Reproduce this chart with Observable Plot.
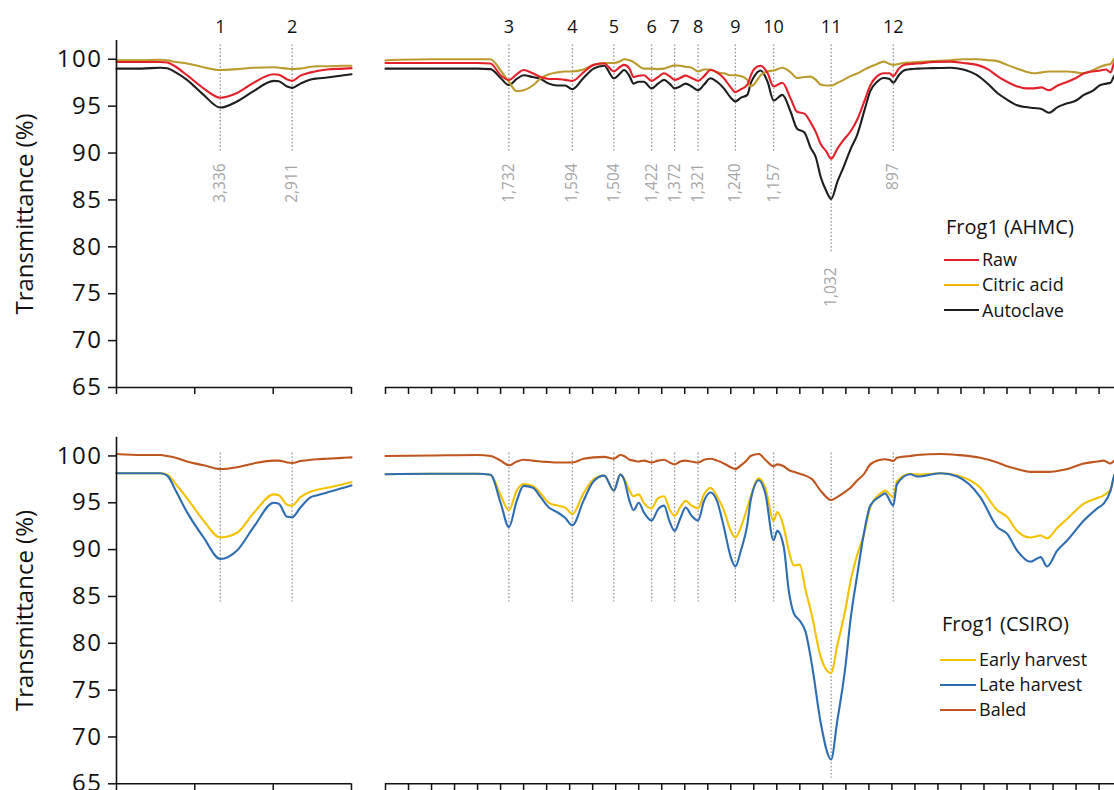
<!DOCTYPE html>
<html>
<head>
<meta charset="utf-8">
<script src="https://cdn.jsdelivr.net/npm/d3@7"></script>
<script src="https://cdn.jsdelivr.net/npm/@observablehq/plot@0.6"></script>
<style>
  body { margin: 0; background: #fff; }
  #chart { position: relative; width: 1114px; height: 790px; overflow: hidden; font-family: "Open Sans", sans-serif; color: #111; }
  #chart svg { position: absolute; display: block; }
  .lg-title { position: absolute; font-size: 20px; line-height: 26px; white-space: nowrap; }
  .lg-item { position: absolute; display: flex; align-items: center; font-size: 18px; line-height: 25px; height: 25px; white-space: nowrap; }
  .lg-sw { height: 2px; }
</style>
</head>
<body>
<div id="chart"></div>
<script>
// ---------- data ----------
const seriesTop = ["Raw", "Citric acid", "Autoclave"];
const seriesBottom = ["Early harvest", "Late harvest", "Baled"];
const titleTop = "Frog1 (AHMC)";
const titleBottom = "Frog1 (CSIRO)";
const yTitle = "Transmittance (%)";

const leftDomain = [3950, 2560];
const rightDomain = [2000, 400];
const yDomain = [65, 102];
const yTicks = [65, 70, 75, 80, 85, 90, 95, 100];
const leftTicks = [3950, 3487, 3023, 2560];

const peakNumbers = [1, 2, 3, 4, 5, 6, 7, 8, 9, 10, 11, 12];
const peakWavenumbers = [3336, 2911, 1732, 1594, 1504, 1422, 1372, 1321, 1240, 1157, 1032, 897];

// 4000–2500 cm-1 region (both panels)
const wnLeft = [3950, 3800, 3690, 3650, 3600, 3533, 3435, 3336, 3237, 3139, 3020, 2990, 2941, 2911, 2862, 2800, 2763, 2704, 2606, 2560];
const rawLeft =       [99.7, 99.7, 99.7, 99.65, 99.2, 98.3, 96.9, 95.9, 96.4, 97.5, 98.4, 98.35, 97.85, 97.7, 98.25, 98.6, 98.75, 98.9, 99.0, 99.05];
const citricLeft =    [99.9, 99.9, 99.95, 99.9, 99.7, 99.55, 99.15, 98.85, 98.95, 99.1, 99.15, 99.1, 99.0, 98.95, 99.0, 99.2, 99.25, 99.25, 99.3, 99.3];
const autoclaveLeft = [99.0, 99.0, 99.1, 99.05, 98.6, 97.8, 96.2, 94.85, 95.5, 96.6, 97.7, 97.65, 97.1, 96.95, 97.4, 97.85, 97.95, 98.05, 98.3, 98.4];
const earlyLeft =     [98.15, 98.15, 98.15, 98.0, 97.0, 95.5, 93.1, 91.3, 91.8, 93.9, 95.9, 95.8, 94.8, 94.7, 95.6, 96.2, 96.4, 96.6, 97.0, 97.2];
const lateLeft =      [98.15, 98.15, 98.15, 97.9, 96.3, 94.0, 91.3, 89.0, 89.9, 92.4, 95.0, 94.9, 93.5, 93.45, 94.5, 95.6, 95.8, 96.1, 96.6, 96.85];
const baledLeft =     [100.2, 100.1, 100.1, 100.0, 99.8, 99.4, 99.0, 98.6, 98.8, 99.2, 99.5, 99.5, 99.3, 99.25, 99.45, 99.6, 99.65, 99.7, 99.8, 99.85];

// 2000–400 cm-1 region, AHMC panel
const wnTopRight = [
  2000, 1900, 1800, 1772, 1750, 1732, 1715, 1700, 1680, 1663,
  1645, 1627, 1610, 1594, 1570, 1548, 1525, 1504, 1490, 1482,
  1470, 1461, 1450, 1439, 1422, 1408, 1395, 1383, 1372, 1360,
  1348, 1335, 1321, 1308, 1294, 1280, 1265, 1250, 1240, 1228,
  1214, 1207, 1200, 1185, 1170, 1157, 1138, 1120, 1106, 1090,
  1077, 1065, 1055, 1043, 1032, 1018, 1005, 990, 975, 960,
  947, 932, 918, 905, 897, 885, 874, 860, 845, 810,
  773, 745, 715, 690, 671, 650, 628, 610, 592, 575,
  559, 540, 519, 500, 483, 465, 447, 435, 425, 416,
  400];
const rawRight = [
  99.6, 99.6, 99.6, 99.55, 98.3, 97.8, 98.4, 98.85, 98.5, 98.1,
  97.9, 97.9, 97.8, 97.7, 98.6, 99.4, 99.55, 98.7, 99.2, 99.4,
  99.0, 98.1, 98.25, 98.3, 97.7, 98.1, 98.5, 98.2, 97.8, 98.0,
  98.25, 98.0, 97.7, 98.2, 98.85, 98.6, 97.97, 97.0, 96.5, 96.8,
  97.3, 98.2, 98.9, 99.3, 98.5, 97.1, 97.5, 95.8, 94.4, 94.2,
  93.3, 92.2, 91.0, 90.2, 89.4, 90.5, 91.4, 92.3, 93.6, 95.5,
  97.2, 98.2, 98.5, 98.5, 98.2, 99.0, 99.4, 99.5, 99.55, 99.7,
  99.75, 99.6, 99.4, 98.9, 98.2, 97.6, 97.1, 96.9, 96.9, 97.0,
  96.7, 97.2, 97.6, 98.0, 98.5, 98.7, 98.8, 98.9, 98.6, 99.7,
  99.8];
const citricRight = [
  99.9, 100.0, 100.0, 100.0, 98.8, 97.6, 96.6, 96.7, 97.2, 97.97,
  98.4, 98.6, 98.7, 98.7, 98.9, 99.4, 99.6, 99.6, 99.8, 100.0,
  99.9, 99.7, 99.3, 99.0, 99.0, 98.95, 99.0, 99.2, 99.35, 99.3,
  99.2, 99.1, 98.7, 98.9, 98.9, 98.6, 98.5, 98.3, 98.3, 98.2,
  97.8, 97.1, 97.3, 98.3, 98.7, 98.8, 99.1, 98.6, 98.0, 98.1,
  98.15, 97.8, 97.3, 97.2, 97.2, 97.5, 97.8, 98.2, 98.5, 98.9,
  99.2, 99.5, 99.75, 99.5, 99.4, 99.5, 99.6, 99.65, 99.7, 99.8,
  99.9, 100.0, 100.0, 99.9, 99.8, 99.4, 99.0, 98.7, 98.5, 98.6,
  98.7, 98.7, 98.7, 98.6, 98.5, 98.8, 99.2, 99.4, 99.5, 100.1,
  100.1];
const autoclaveRight = [
  99.0, 99.0, 99.0, 98.95, 98.0, 97.25, 97.9, 98.3, 98.1, 97.9,
  97.4, 97.2, 97.2, 96.8, 98.0, 99.0, 99.3, 97.97, 98.5, 98.85,
  98.2, 97.4, 97.6, 97.6, 96.9, 97.4, 97.8, 97.4, 96.9, 97.1,
  97.4, 97.1, 96.7, 97.3, 97.97, 97.6, 96.9, 95.9, 95.5, 95.9,
  96.2, 97.4, 98.1, 98.8, 97.6, 95.6, 96.2, 94.4, 92.6, 92.2,
  90.6, 89.5, 87.5, 86.0, 85.1, 87.0, 88.5, 90.4, 92.0, 94.5,
  96.6, 97.6, 98.0, 97.9, 97.5, 98.3, 98.8, 98.95, 99.0, 99.05,
  99.1, 98.9, 98.3, 97.3, 96.4, 95.7, 95.1, 94.9, 94.8, 94.7,
  94.3, 94.9, 95.3, 95.6, 96.2, 96.6, 97.25, 97.4, 97.5, 98.3,
  98.5];

// 2000–400 cm-1 region, CSIRO panel
const wnBottomRight = [
  2000, 1900, 1800, 1772, 1750, 1732, 1715, 1700, 1680, 1663,
  1645, 1627, 1610, 1594, 1570, 1548, 1525, 1504, 1490, 1482,
  1470, 1461, 1450, 1439, 1422, 1408, 1395, 1383, 1372, 1360,
  1348, 1335, 1321, 1308, 1294, 1280, 1265, 1250, 1240, 1228,
  1214, 1207, 1189, 1175, 1157, 1149, 1135, 1124, 1113, 1100,
  1088, 1073, 1055, 1032, 1019, 1001, 990, 975, 961, 947,
  925, 915, 897, 889, 860, 845, 795, 758, 708, 671,
  650, 628, 599, 577, 563, 541, 519, 483, 454, 440,
  425, 416, 400];
const earlyRight = [
  98.05, 98.1, 98.1, 98.0, 95.8, 94.2, 96.3, 97.0, 96.8, 96.0,
  95.0, 94.7, 94.5, 93.8, 96.0, 97.5, 97.9, 96.3, 98.05, 97.6,
  96.3, 95.7, 95.9, 95.0, 94.4, 95.5, 95.7, 94.3, 93.6, 94.5,
  95.2, 94.7, 94.4, 95.9, 96.6, 95.7, 94.2, 92.0, 91.3, 92.4,
  94.5, 95.6, 97.6, 96.6, 93.1, 94.0, 92.4, 89.9, 88.3, 88.4,
  85.8, 82.8, 78.6, 76.8, 79.7, 83.6, 86.6, 89.5, 91.6, 94.5,
  96.0, 96.3, 95.6, 97.3, 98.1, 98.0, 98.15, 97.9, 96.6, 94.2,
  93.5, 92.0, 91.3, 91.5, 91.2, 92.3, 93.3, 94.9, 95.5, 95.8,
  96.4, 98.05, 98.5];
const lateRight = [
  98.05, 98.1, 98.1, 98.0, 95.0, 92.4, 95.2, 96.8, 96.6, 95.6,
  94.5, 94.0, 93.4, 92.6, 95.2, 97.3, 97.9, 96.3, 98.0, 97.5,
  95.2, 94.2, 95.0, 94.0, 93.1, 94.3, 94.7, 93.0, 92.0, 93.3,
  94.5, 93.6, 93.1, 95.2, 96.1, 95.2, 92.4, 89.2, 88.2, 89.9,
  92.7, 95.2, 97.4, 96.0, 91.0, 92.0, 90.3, 85.6, 83.2, 82.4,
  81.3, 77.5, 71.6, 67.6, 71.6, 77.5, 82.5, 87.4, 91.7, 94.7,
  95.7, 96.0, 94.7, 97.0, 98.05, 97.8, 98.15, 97.8, 95.6, 92.4,
  91.7, 89.9, 88.7, 89.2, 88.2, 89.9, 91.0, 93.1, 94.4, 94.9,
  96.3, 98.05, 98.5];
const baledRight = [
  100.0, 100.05, 100.1, 100.0, 99.5, 99.0, 99.4, 99.6, 99.5, 99.4,
  99.35, 99.3, 99.3, 99.3, 99.7, 99.85, 99.9, 99.7, 100.1, 100.0,
  99.6, 99.5, 99.4, 99.5, 99.3, 99.5, 99.6, 99.3, 99.1, 99.4,
  99.5, 99.4, 99.3, 99.6, 99.7, 99.5, 99.2, 98.8, 98.6, 99.0,
  99.6, 100.0, 100.2, 99.6, 98.9, 99.1, 98.9, 98.5, 98.3, 98.1,
  97.9, 97.5, 96.3, 95.3, 95.6, 96.2, 96.6, 97.4, 98.05, 99.1,
  99.6, 99.65, 99.47, 99.8, 100.0, 100.1, 100.2, 100.1, 99.8, 99.3,
  98.9, 98.6, 98.3, 98.3, 98.3, 98.4, 98.6, 99.2, 99.4, 99.5,
  99.2, 99.5, 99.6];

// colours
const lineColorsTop = ["#e3202a", "#bb9b2e", "#1e1e1e"];      // Raw, Citric acid, Autoclave
const legendColorsTop = ["#e3202a", "#f2b705", "#1e1e1e"];
const lineColorsBottom = ["#f5c200", "#2f6db3", "#c0561f"];   // Early, Late, Baled

// ---------- build tables ----------
function rows(wn, arrays, names, order) {
  const out = [];
  order.forEach(i => {
    if (arrays[i].length !== wn.length) console.error("length mismatch", names[i], arrays[i].length, wn.length);
    wn.forEach((w, j) => out.push({series: names[i], w, v: arrays[i][j]}));
  });
  return out;
}
const topOrder = [2, 1, 0];     // Autoclave, Citric acid, then Raw on top
const bottomOrder = [0, 1, 2];  // Early, Late, Baled
const peaks = peakWavenumbers.map((w, i) => ({w, n: peakNumbers[i]}));
const rightTicks = d3.range(rightDomain[0], rightDomain[1] - 1, -50);

const chart = document.getElementById("chart");

function subpanel({data, names, colors, domain, ticks, left, svgWidth, xRange, top, height, yTop, yBottom,
                   ruleTop, ruleEnd, ruleEndDeep, labels, yAxis}) {
  const lo = Math.min(...domain), hi = Math.max(...domain);
  const pk = peaks.filter(p => p.w >= lo && p.w <= hi);
  const marks = [
    Plot.ruleX(pk, {x: "w", y1: ruleTop, y2: d => d.w === 1032 ? ruleEndDeep : ruleEnd,
      stroke: "#9a9a9a", strokeWidth: 1.3, strokeDasharray: "1.6,2"}),
    Plot.line(data, {x: "w", y: "v", z: "series", stroke: "series", strokeWidth: 2.1, curve: "monotone-x"}),
    Plot.ruleY([yDomain[0]], {x1: domain[0], x2: domain[1], stroke: "#111", strokeWidth: 1.6}),
    Plot.axisX({ticks, tickSize: 7, tickFormat: () => "", label: null, strokeWidth: 1.5})
  ];
  if (yAxis) {
    marks.push(
      Plot.ruleX([domain[0]], {y1: yDomain[0], y2: yDomain[1], stroke: "#111", strokeWidth: 1.6}),
      Plot.axisY({ticks: yTicks, tickSize: 8, tickPadding: 6, fontSize: 24, label: null, strokeWidth: 1.5, tickFormat: d => String(d)}),
      Plot.text([yTitle], {frameAnchor: "left", textAnchor: "middle", dx: -91, rotate: -90, fontSize: 24, fill: "#111"})
    );
  }
  if (labels) {
    marks.push(
      Plot.text(pk, {x: "w", y: () => 103.45, text: "n", fontSize: 18, fill: "#111"}),
      Plot.text(pk, {x: "w", y: d => d.w === 1032 ? 77.8 : 88.9, text: d => d3.format(",")(d.w),
        rotate: -90, textAnchor: "end", fontSize: 15.5, fill: "#a6a6a6"})
    );
  }
  const svg = Plot.plot({
    width: svgWidth, height,
    marginLeft: xRange[0], marginRight: 0, marginTop: yTop, marginBottom: height - yBottom,
    x: {domain, range: xRange, axis: null},
    y: {domain: yDomain, range: [yBottom, yTop], axis: null},
    color: {domain: names, range: colors},
    style: {fontFamily: "'Open Sans', sans-serif", color: "#111", background: "transparent", overflow: "hidden"},
    marks
  });
  d3.select(svg).selectAll('g[aria-label="y-axis tick label"] text').attr("letter-spacing", "1.5px");
  svg.style.left = left + "px";
  svg.style.top = top + "px";
  chart.appendChild(svg);
}

const topLeftData = rows(wnLeft, [rawLeft, citricLeft, autoclaveLeft], seriesTop, topOrder);
const topRightData = rows(wnTopRight, [rawRight, citricRight, autoclaveRight], seriesTop, topOrder);
const botLeftData = rows(wnLeft, [earlyLeft, lateLeft, baledLeft], seriesBottom, bottomOrder);
const botRightData = rows(wnBottomRight, [earlyRight, lateRight, baledRight], seriesBottom, bottomOrder);

const topCfg = {top: 0, height: 408, yTop: 40, yBottom: 387, ruleTop: 101.52, ruleEnd: 90, ruleEndDeep: 79.4, labels: true};
const botCfg = {top: 400, height: 390, yTop: 36.7, yBottom: 383.3, ruleTop: 100.3, ruleEnd: 84.4, ruleEndDeep: 65.6, labels: false};
const leftCfg = {domain: leftDomain, ticks: leftTicks, left: 0, svgWidth: 368, xRange: [116, 351], yAxis: true};
const rightCfg = {domain: rightDomain, ticks: rightTicks, left: 375, svgWidth: 739, xRange: [10, 746.6], yAxis: false};

subpanel({data: topLeftData, names: seriesTop, colors: lineColorsTop, ...topCfg, ...leftCfg});
subpanel({data: topRightData, names: seriesTop, colors: lineColorsTop, ...topCfg, ...rightCfg});
subpanel({data: botLeftData, names: seriesBottom, colors: lineColorsBottom, ...botCfg, ...leftCfg});
subpanel({data: botRightData, names: seriesBottom, colors: lineColorsBottom, ...botCfg, ...rightCfg});

// ---------- legends (HTML) ----------
function legend(title, names, colors, x, titleTopPx, itemTop, step, swW) {
  const t = document.createElement("div");
  t.className = "lg-title"; t.textContent = title;
  t.style.left = (x + 2) + "px"; t.style.top = titleTopPx + "px";
  chart.appendChild(t);
  names.forEach((n, i) => {
    const it = document.createElement("div");
    it.className = "lg-item";
    it.style.left = x + "px"; it.style.top = (itemTop + i * step) + "px";
    const sw = document.createElement("span");
    sw.className = "lg-sw"; sw.style.width = swW + "px"; sw.style.background = colors[i]; sw.style.marginRight = "3px";
    const tx = document.createElement("span"); tx.textContent = n;
    it.appendChild(sw); it.appendChild(tx);
    chart.appendChild(it);
  });
}
legend(titleTop, seriesTop, legendColorsTop, 944, 214, 247, 25.3, 35);
legend(titleBottom, seriesBottom, lineColorsBottom, 940, 611, 647, 25, 36);
</script>
</body>
</html>
